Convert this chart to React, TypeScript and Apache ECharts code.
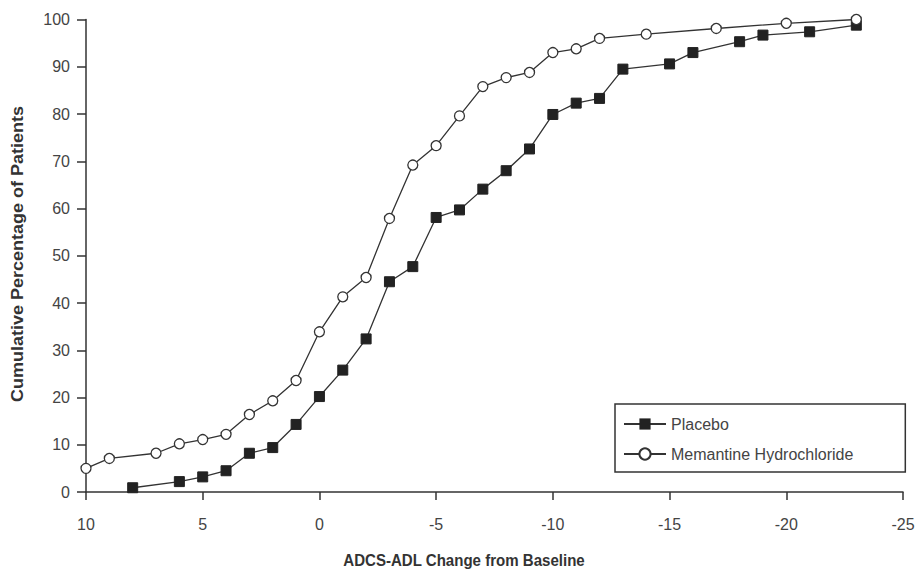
import React, { useEffect, useRef } from "react";
import * as echarts from "echarts";

const memantineX = [10, 9, 7, 6, 5, 4, 3, 2, 1, 0, -1, -2, -3, -4, -5, -6, -7, -8, -9, -10, -11, -12, -14, -17, -20, -23];
const memantineY = [5, 7.1, 8.2, 10.2, 11.1, 12.2, 16.4, 19.3, 23.6, 33.9, 41.3, 45.4, 57.9, 69.2, 73.3, 79.6, 85.8, 87.7, 88.8, 93.0, 93.8, 96.0, 96.9, 98.1, 99.2, 100];

const placeboX = [8, 6, 5, 4, 3, 2, 1, 0, -1, -2, -3, -4, -5, -6, -7, -8, -9, -10, -11, -12, -13, -15, -16, -18, -19, -21, -23];
const placeboY = [0.9, 2.2, 3.2, 4.5, 8.2, 9.4, 14.3, 20.2, 25.8, 32.4, 44.5, 47.7, 58.1, 59.7, 64.1, 68.0, 72.6, 79.9, 82.3, 83.3, 89.5, 90.6, 93.0, 95.3, 96.7, 97.4, 98.8];

const seriesNames = ["Placebo", "Memantine Hydrochloride"];
const xTitle = "ADCS-ADL Change from Baseline";
const yTitle = "Cumulative Percentage of Patients";

const FONT = "'Liberation Sans Narrow', 'Liberation Sans', Arial, sans-serif";

export default function App() {
  const ref = useRef<HTMLDivElement>(null);
  useEffect(() => {
    if (!ref.current) return;
    const chart = echarts.init(ref.current, undefined, { renderer: "svg" });
    const pairs = (xs: number[], ys: number[]) => xs.map((x, i) => [x, ys[i]]);
    chart.setOption({
      animation: false,
      backgroundColor: "#ffffff",
      grid: { left: 86, right: 12, top: 19.5, bottom: 85, containLabel: false, outerBoundsMode: "none" },
      xAxis: {
        type: "value",
        min: -25,
        max: 10,
        interval: 5,
        inverse: true,
        axisLine: { show: true, onZero: false, lineStyle: { color: "#333", width: 1.5 } },
        axisTick: { show: true, length: 8, lineStyle: { color: "#333", width: 1.5 } },
        axisLabel: { color: "#444", fontSize: 16, fontFamily: FONT, margin: 24 },
        splitLine: { show: false },
      },
      yAxis: {
        type: "value",
        min: 0,
        max: 100,
        interval: 10,
        axisLine: { show: true, onZero: false, lineStyle: { color: "#333", width: 1.5 } },
        axisTick: { show: true, length: 9, lineStyle: { color: "#333", width: 1.5 } },
        axisLabel: { color: "#444", fontSize: 16, fontFamily: FONT, margin: 16 },
        splitLine: { show: false },
      },
      legend: {
        left: 615,
        top: 404,
        orient: "vertical",
        data: seriesNames,
        itemWidth: 42,
        itemHeight: 14,
        itemGap: 14,
        padding: [12, 52, 10, 8],
        borderColor: "#333",
        borderWidth: 1.5,
        borderRadius: 0,
        backgroundColor: "#fff",
        textStyle: { color: "#444", fontSize: 16, fontFamily: FONT },
      },
      graphic: [
        {
          type: "text",
          x: 464,
          y: 560,
          scaleX: 0.886,
          style: {
            text: xTitle,
            fill: "#333",
            font: `bold 17px ${FONT}`,
            textAlign: "center",
            textVerticalAlign: "middle",
          },
        },
        {
          type: "text",
          x: 17.5,
          y: 254,
          rotation: Math.PI / 2,
          scaleX: 1.06,
          style: {
            text: yTitle,
            fill: "#333",
            font: `bold 17px ${FONT}`,
            textAlign: "center",
            textVerticalAlign: "middle",
          },
        },
      ],
      series: [
        {
          name: seriesNames[0],
          type: "line",
          data: pairs(placeboX, placeboY),
          symbol: "rect",
          symbolSize: 10,
          lineStyle: { color: "#333", width: 1.3 },
          itemStyle: { color: "#222", borderColor: "#222" },
          z: 3,
        },
        {
          name: seriesNames[1],
          type: "line",
          data: pairs(memantineX, memantineY),
          symbol: "circle",
          symbolSize: 10,
          showAllSymbol: true,
          lineStyle: { color: "#333", width: 1.3 },
          itemStyle: { color: "#fff", borderColor: "#333", borderWidth: 1.3 },
          z: 4,
        },
      ],
    });
    return () => chart.dispose();
  }, []);
  return <div ref={ref} style={{ width: 915, height: 577, position: "absolute", left: 0, top: 0 }} />;
}
